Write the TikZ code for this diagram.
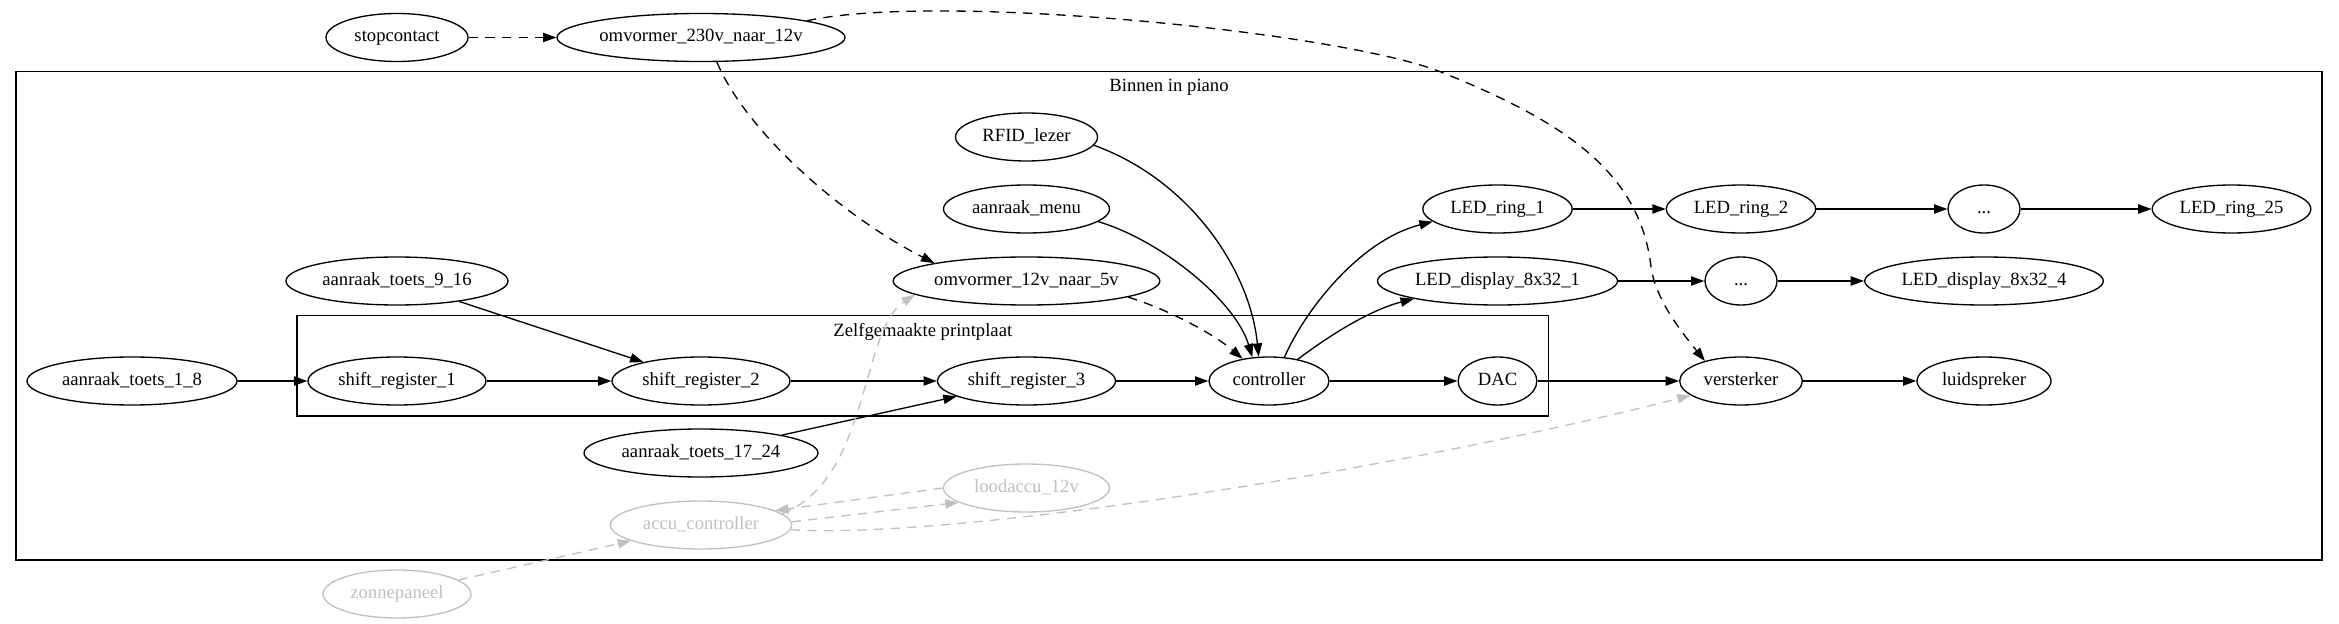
\documentclass[tikz,border=0pt]{standalone}
\usepackage{fontspec}
\setmainfont{Liberation Serif}
\usetikzlibrary{shapes.geometric, arrows.meta}
\definecolor{powergray}{RGB}{192, 192, 192}

\begin{document}
\begin{tikzpicture}[
        x=0.75pt, y=-0.75pt,
        base/.style={ellipse, draw, line width=1pt, font=\fontsize{14pt}{16pt}\selectfont, minimum height=36pt, minimum width=54pt, inner xsep=0pt, inner ysep=2pt, text height=9.5pt, text depth=3pt},
        part/.style={base},
        power/.style={base, draw=powergray, text=powergray},
        arrow/.style={-{Triangle[length=10pt, width=7pt]}, line width=1pt},
        feed/.style={arrow, dash pattern=on 7pt off 5.5pt},
        solar/.style={feed, draw=powergray},
        cluster/.style={draw, line width=1pt},
        lbl/.style={font=\fontsize{14pt}{16pt}\selectfont, inner sep=0pt}
    ]
        \useasboundingbox (0, 0) rectangle (2339, 624);

        % Clusters
        \draw [cluster] (16, 71.7) rectangle (2322, 560);
        \node (binnen) [lbl] at (1169, 87) {Binnen in piano};
        \draw [cluster] (297, 315.7) rectangle (1548.6, 416);
        \node (printplaat) [lbl] at (922.8, 332) {Zelfgemaakte printplaat};

        % Outside
        \node (stop) [part, minimum width=106.5pt] at (397, 37.5) {stopcontact};
        \node (omv230) [part, minimum width=216pt] at (701, 37.5) {omvormer\_230v\_naar\_12v};
        \node (zon) [power, minimum width=111pt] at (397, 594) {zonnepaneel};

        % Inputs
        \node (rfid) [part, minimum width=106.5pt] at (1026.5, 137) {RFID\_lezer};
        \node (menu) [part, minimum width=124.5pt] at (1026.5, 209) {aanraak\_menu};
        \node (omv12) [part, minimum width=200pt] at (1026.5, 281) {omvormer\_12v\_naar\_5v};
        \node (toets9) [part, minimum width=166.5pt] at (397, 281) {aanraak\_toets\_9\_16};
        \node (toets1) [part, minimum width=157.5pt] at (132, 381) {aanraak\_toets\_1\_8};
        \node (toets17) [part, minimum width=175.5pt] at (701, 453) {aanraak\_toets\_17\_24};

        % Printplaat row
        \node (sr1) [part, minimum width=133.5pt] at (397, 381) {shift\_register\_1};
        \node (sr2) [part, minimum width=133.5pt] at (701, 381) {shift\_register\_2};
        \node (sr3) [part, minimum width=133.5pt] at (1026.5, 381) {shift\_register\_3};
        \node (ctrl) [part, minimum width=90pt] at (1269, 381) {controller};
        \node (dac) [part, minimum width=59pt] at (1497.5, 381) {DAC};

        % Outputs
        \node (verst) [part, minimum width=92pt] at (1741, 381) {versterker};
        \node (luid) [part, minimum width=100.5pt] at (1984, 381) {luidspreker};
        \node (ring1) [part, minimum width=112pt] at (1497.5, 209) {LED\_ring\_1};
        \node (ring2) [part, minimum width=112pt] at (1741, 209) {LED\_ring\_2};
        \node (ringdots) [part] at (1984, 209) {...};
        \node (ring25) [part, minimum width=119pt] at (2231.5, 209) {LED\_ring\_25};
        \node (disp1) [part, minimum width=180pt] at (1497.5, 281) {LED\_display\_8x32\_1};
        \node (dispdots) [part] at (1741, 281) {...};
        \node (disp4) [part, minimum width=179pt] at (1984, 281) {LED\_display\_8x32\_4};

        % Power
        \node (lood) [power, minimum width=124.5pt] at (1026.5, 488) {loodaccu\_12v};
        \node (accu) [power, minimum width=136pt] at (701, 525) {accu\_controller};

        % Arrows
        \draw [feed] (stop) -- (omv230);
        \draw [feed] (omv230.-57) .. controls (745, 130) and (840, 215) .. (omv12.169);
        \draw [feed] (omv230.9) .. controls (940, -8) and (1340, 32) .. (1441, 72)
            .. controls (1560, 120) and (1640, 170) .. (1651, 267)
            .. controls (1656, 300) and (1680, 330) .. (verst.151);
        \draw [feed] (omv12.-9) .. controls (1170, 310) and (1215, 335) .. (ctrl.140);

        \draw [arrow] (toets1) -- (sr1);
        \draw [arrow] (sr1) -- (sr2);
        \draw [arrow] (toets9) -- (sr2);
        \draw [arrow] (sr2) -- (sr3);
        \draw [arrow] (toets17) -- (sr3);
        \draw [arrow] (sr3) -- (ctrl);
        \draw [arrow] (rfid.-7) .. controls (1190, 180) and (1250, 270) .. (ctrl.113);
        \draw [arrow] (menu.-10) .. controls (1160, 240) and (1235, 300) .. (ctrl.125);
        \draw [arrow] (ctrl.57) .. controls (1305, 310) and (1360, 240) .. (ring1.-169);
        \draw [arrow] (ctrl.37) .. controls (1330, 335) and (1370, 310) .. (disp1.-168);
        \draw [arrow] (ctrl) -- (dac);
        \draw [arrow] (dac) -- (verst);
        \draw [arrow] (verst) -- (luid);
        \draw [arrow] (ring1) -- (ring2);
        \draw [arrow] (ring2) -- (ringdots);
        \draw [arrow] (ringdots) -- (ring25);
        \draw [arrow] (disp1) -- (dispdots);
        \draw [arrow] (dispdots) -- (disp4);

        \draw [solar] (zon) -- (accu);
        \draw [solar] (accu.2) -- (lood.-168);
        \draw [solar] (lood.west) -- (accu.11);
        \draw [solar] (accu.8) .. controls (870, 480) and (860, 330) .. (omv12.-173);
        \draw [solar] (accu.-3) .. controls (950, 540) and (1400, 470) .. (verst.-164);
\end{tikzpicture}
\end{document}
